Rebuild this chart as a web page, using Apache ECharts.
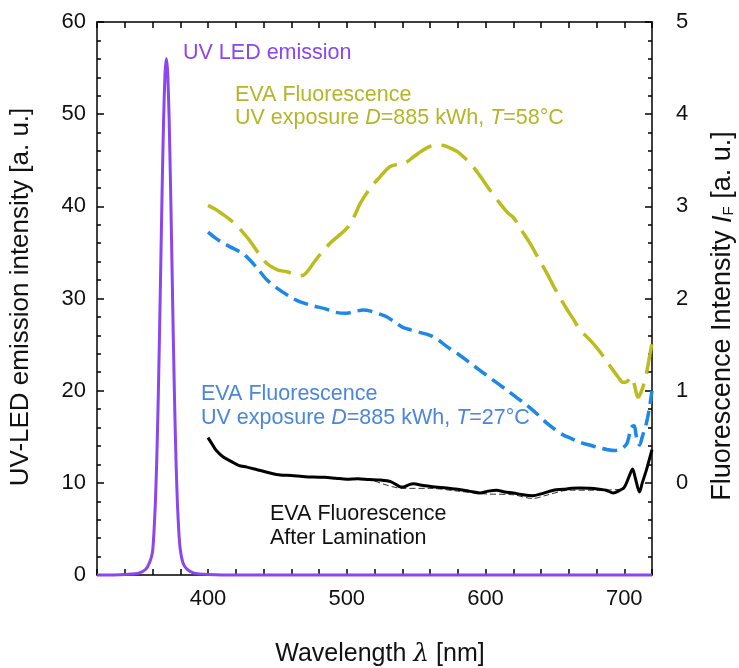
<!DOCTYPE html>
<html>
<head>
<meta charset="utf-8">
<script src="https://cdn.jsdelivr.net/npm/echarts@6/dist/echarts.min.js"></script>
<style>
html,body{margin:0;padding:0;background:#fff;}
#c{width:739px;height:668px;}
</style>
</head>
<body>
<div id="c"></div>
<script>
// ---- data (wavelength in nm) ----
const ledNm  = [320,330,340,345,350,355,358,360,361,362,363,364,365,366,367,368,369,370,371,372,373,374,375,376,377,378,379,380,382,385,390,400,410,500,600,720];
const ledVal = [0,0,0.05,0.1,0.2,0.6,1.4,2.5,4.5,7.6,12.1,18.2,25.7,34,42.3,49.4,54.3,56,54.3,49.4,42.3,34,25.7,18.2,12.1,7.6,4.6,2.8,1.3,0.6,0.2,0.05,0,0,0,0];

const eva58Nm  = [400,405,410,418,425,430,436,442,450,457,463,468,472,476,482,488,494,500,505,510,517,524,531,538,543,548,554,560,565,570,575,580,586,591,597,603,610,616,620,626,632,638,644,651,659,664,668,674,680,686,692,696,699,702,705,707,710,713,716,718,720];
const eva58Val = [3.01,2.97,2.92,2.83,2.72,2.63,2.50,2.385,2.31,2.29,2.26,2.25,2.30,2.385,2.50,2.60,2.68,2.76,2.88,3.04,3.20,3.32,3.43,3.46,3.48,3.535,3.60,3.65,3.665,3.66,3.63,3.59,3.51,3.43,3.31,3.18,3.04,2.93,2.88,2.74,2.60,2.44,2.28,2.08,1.875,1.76,1.66,1.57,1.47,1.35,1.22,1.14,1.09,1.10,1.15,1.08,0.93,1.02,1.19,1.35,1.52];

const eva27Nm  = [400,405,410,416,420,425,430,436,442,450,459,467,476,484,492,500,506,512,518,524,529,535,540,546,553,560,566,572,580,588,596,605,615,622,630,637,644,650,656,662,668,675,682,688,693,698,702,705,707,709,711,713,716,718,720];
const eva27Val = [2.72,2.66,2.61,2.56,2.53,2.49,2.42,2.32,2.21,2.11,2.02,1.96,1.92,1.89,1.85,1.84,1.86,1.875,1.86,1.83,1.80,1.74,1.69,1.66,1.63,1.60,1.55,1.48,1.40,1.31,1.22,1.12,1.01,0.93,0.84,0.75,0.65,0.58,0.52,0.48,0.44,0.41,0.38,0.36,0.35,0.37,0.43,0.60,0.62,0.48,0.41,0.50,0.65,0.80,1.0];

const lamNm  = [400,403,406,411,417,422,428,436,444,452,460,468,476,484,492,500,508,516,524,532,538,541,545,548,555,564,572,580,588,596,602,608,614,620,627,634,640,649,656,662,668,675,682,687,692,697,700,703,706,708,711,713,716,718,720];
const lamVal = [0.49,0.42,0.35,0.28,0.23,0.19,0.17,0.14,0.11,0.085,0.08,0.07,0.063,0.06,0.05,0.04,0.045,0.035,0.03,0.01,-0.04,-0.045,-0.02,-0.01,-0.03,-0.045,-0.055,-0.07,-0.09,-0.11,-0.09,-0.08,-0.1,-0.11,-0.13,-0.14,-0.12,-0.08,-0.07,-0.06,-0.055,-0.06,-0.07,-0.08,-0.11,-0.08,-0.05,0.05,0.15,0.05,-0.1,0.0,0.14,0.25,0.36];

const lam2Nm  = [520,540,560,580,600,620,634,645,660,680,700];
const lam2Val = [0.02,-0.06,-0.06,-0.09,-0.12,-0.13,-0.17,-0.13,-0.08,-0.08,-0.07];

const xTicks = [400,500,600,700];

function pairs(xs, ys){ return xs.map((x,i)=>[x, ys[i]]); }

const FONT = '"Liberation Sans", Arial, Helvetica, sans-serif';
const PURPLE = '#8a46f0', OLIVE = '#bcbc1e', BLUE = '#1e88e5';

const chart = echarts.init(document.getElementById('c'), null, {renderer:'canvas'});
const axisLine = {show:true, onZero:false, lineStyle:{color:'#000', width:1.5}};
chart.setOption({
  animation:false,
  backgroundColor:'#fff',
  grid:{left:97, right:87, top:22, bottom:93, containLabel:false},
  xAxis:[
    {type:'value', min:320, max:720, interval:20, position:'bottom',
     axisLine:axisLine, axisTick:{show:true, inside:true, length:6, lineStyle:{color:'#000', width:1.5}},
     axisLabel:{fontSize:22, color:'#111', fontFamily:FONT, margin:13,
       formatter:v => xTicks.includes(v) ? String(v) : ''},
     splitLine:{show:false}},
    {type:'value', min:320, max:720, interval:20, position:'top',
     axisLine:axisLine, axisTick:{show:true, inside:true, length:6, lineStyle:{color:'#000', width:1.5}},
     axisLabel:{show:false}, splitLine:{show:false}}
  ],
  yAxis:[
    {type:'value', min:0, max:60, interval:10, position:'left',
     axisLine:axisLine, axisTick:{show:true, inside:true, length:7, lineStyle:{color:'#000', width:1.5}},
     minorTick:{show:true, splitNumber:5, length:4, lineStyle:{color:'#000', width:1.5}},
     axisLabel:{fontSize:22, color:'#111', fontFamily:FONT, margin:11},
     splitLine:{show:false}, minorSplitLine:{show:false}},
    {type:'value', min:-1, max:5, interval:1, position:'right',
     axisLine:axisLine, axisTick:{show:true, inside:true, length:7, lineStyle:{color:'#000', width:1.5}},
     minorTick:{show:true, splitNumber:5, length:4, lineStyle:{color:'#000', width:1.5}},
     axisLabel:{fontSize:22, color:'#111', fontFamily:FONT, margin:24,
       formatter:v => v < 0 ? '' : String(v)},
     splitLine:{show:false}, minorSplitLine:{show:false}}
  ],
  series:[
    {type:'line', name:'UV LED emission', xAxisIndex:0, yAxisIndex:0, data:pairs(ledNm, ledVal),
     showSymbol:false, smooth:0.2, clip:false, lineStyle:{color:PURPLE, width:3}, z:5},
    {type:'line', name:'EVA T=58', xAxisIndex:0, yAxisIndex:1, data:pairs(eva58Nm, eva58Val),
     showSymbol:false, smooth:0.3, lineStyle:{color:OLIVE, width:3.5, type:[30,10]}, z:4},
    {type:'line', name:'EVA T=27', xAxisIndex:0, yAxisIndex:1, data:pairs(eva27Nm, eva27Val),
     showSymbol:false, smooth:0.3, lineStyle:{color:BLUE, width:3.5, type:[15,7]}, z:4},
    {type:'line', name:'EVA lamination thin', xAxisIndex:0, yAxisIndex:1, data:pairs(lam2Nm, lam2Val),
     showSymbol:false, smooth:0.3, lineStyle:{color:'#333', width:1, type:[6,3]}, z:3},
    {type:'line', name:'EVA lamination', xAxisIndex:0, yAxisIndex:1, data:pairs(lamNm, lamVal),
     showSymbol:false, smooth:0.3, lineStyle:{color:'#000', width:3}, z:4}
  ],
  graphic:[
    {type:'text', x:183, y:53, style:{text:'UV LED emission', fill:PURPLE, font:'21.5px '+FONT, verticalAlign:'middle'}},
    {type:'text', x:235, y:95, style:{text:'EVA Fluorescence', fill:'#b5b528', font:'21.5px '+FONT, verticalAlign:'middle'}},
    {type:'text', x:235, y:118, style:{text:'UV exposure {i|D}=885 kWh, {i|T}=58°C', fill:'#b5b528', font:'21.5px '+FONT, verticalAlign:'middle',
      rich:{i:{fontStyle:'italic', fontSize:21.5, fontFamily:FONT, fill:'#b5b528'}}}},
    {type:'text', x:201, y:394, style:{text:'EVA Fluorescence', fill:'#4a86dc', font:'21.5px '+FONT, verticalAlign:'middle'}},
    {type:'text', x:201, y:418, style:{text:'UV exposure {i|D}=885 kWh, {i|T}=27°C', fill:'#4a86dc', font:'21.5px '+FONT, verticalAlign:'middle',
      rich:{i:{fontStyle:'italic', fontSize:21.5, fontFamily:FONT, fill:'#4a86dc'}}}},
    {type:'text', x:270, y:514, style:{text:'EVA Fluorescence', fill:'#111', font:'21.5px '+FONT, verticalAlign:'middle'}},
    {type:'text', x:270, y:538, style:{text:'After Lamination', fill:'#111', font:'21.5px '+FONT, verticalAlign:'middle'}},
    {type:'text', x:380, y:654, style:{text:'Wavelength {l|λ} [nm]', fill:'#111', font:'25px '+FONT, align:'center', verticalAlign:'middle',
      rich:{l:{fontStyle:'italic', fontSize:25, fontFamily:'"DejaVu Serif", serif', fill:'#111'}}}},
    {type:'text', x:21, y:297, rotation:Math.PI/2, style:{text:'UV-LED emission intensity [a. u.]', fill:'#111', font:'26px '+FONT, align:'center', verticalAlign:'middle'}},
    {type:'text', x:723, y:316, rotation:Math.PI/2, style:{text:'Fluorescence Intensity {i|I}{s|F} [a. u.]', fill:'#111', font:'27px '+FONT, align:'center', verticalAlign:'middle',
      rich:{i:{fontStyle:'italic', fontSize:27, fontFamily:FONT, fill:'#111'}, s:{fontSize:15, fontFamily:FONT, fill:'#111', padding:[11,0,0,0]}}}}
  ]
});
</script>
</body>
</html>
